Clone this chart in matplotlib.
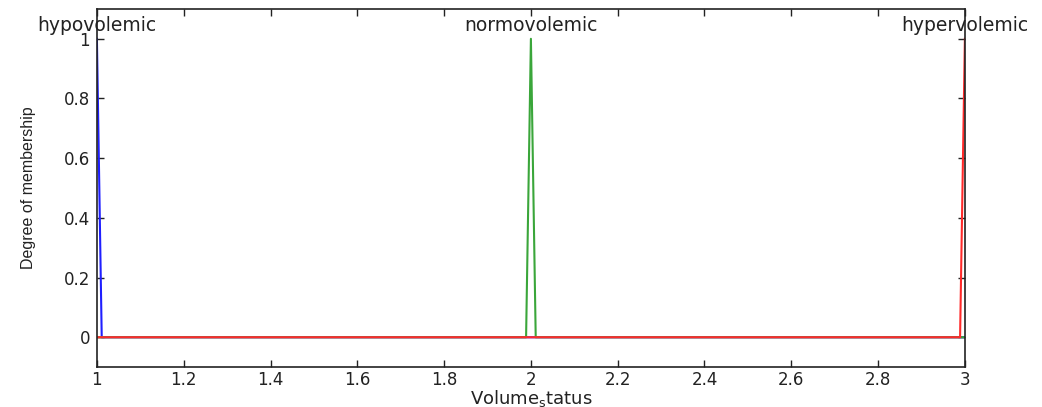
import matplotlib
matplotlib.use('Agg')
import matplotlib.pyplot as plt

# membership function vertices over the Volume_status range
hypo_x = [1.0, 1.0111, 3.0]
hypo_y = [1.0, 0.0, 0.0]
normo_x = [1.0, 1.9889, 2.0, 2.0111, 3.0]
normo_y = [0.0, 0.0, 1.0, 0.0, 0.0]
hyper_x = [1.0, 2.9889, 3.0]
hyper_y = [0.0, 0.0, 1.0]

mf_names = ['hypovolemic', 'normovolemic', 'hypervolemic']
mf_peaks = [1.0, 2.0, 3.0]

x_ticks = [1.0, 1.2, 1.4, 1.6, 1.8, 2.0, 2.2, 2.4, 2.6, 2.8, 3.0]
x_tick_labels = ['1', '1.2', '1.4', '1.6', '1.8', '2', '2.2', '2.4', '2.6', '2.8', '3']
y_ticks = [0.0, 0.2, 0.4, 0.6, 0.8, 1.0]
y_tick_labels = ['0', '0.2', '0.4', '0.6', '0.8', '1']

fig = plt.figure(figsize=(10.42, 4.07), dpi=100)
ax = fig.add_axes([0.093, 0.098, 0.833, 0.880])

ax.plot(hypo_x, hypo_y, color='#1f1fff', linewidth=1.5)
ax.plot(normo_x, normo_y, color='#3aa63a', linewidth=1.5)
ax.plot(hyper_x, hyper_y, color='#ff2a2a', linewidth=1.5)

for name, peak in zip(mf_names, mf_peaks):
    ax.text(peak, 1.045, name, ha='center', va='center', fontsize=13.5,
            color='#222222')

ax.set_xlim(1, 3)
ax.set_ylim(-0.1, 1.1)
ax.set_xticks(x_ticks)
ax.set_xticklabels(x_tick_labels, fontsize=12)
ax.set_yticks(y_ticks)
ax.set_yticklabels(y_tick_labels, fontsize=12)
ax.tick_params(direction='in', length=5, top=True, right=True, width=1,
               pad=5, colors='#222222')
ax.tick_params(axis='x', pad=3)
for side in ax.spines.values():
    side.set_color('#222222')
    side.set_linewidth(1.2)

ax.set_xlabel(r'Volume$_{\mathrm{s}}$tatus', fontsize=13, labelpad=-1,
              color='#222222')
ax.set_ylabel('Degree of membership', fontsize=11.5, labelpad=20,
              family=['Liberation Sans', 'DejaVu Sans'], color='#222222')

fig.savefig('out.png', dpi=100)
